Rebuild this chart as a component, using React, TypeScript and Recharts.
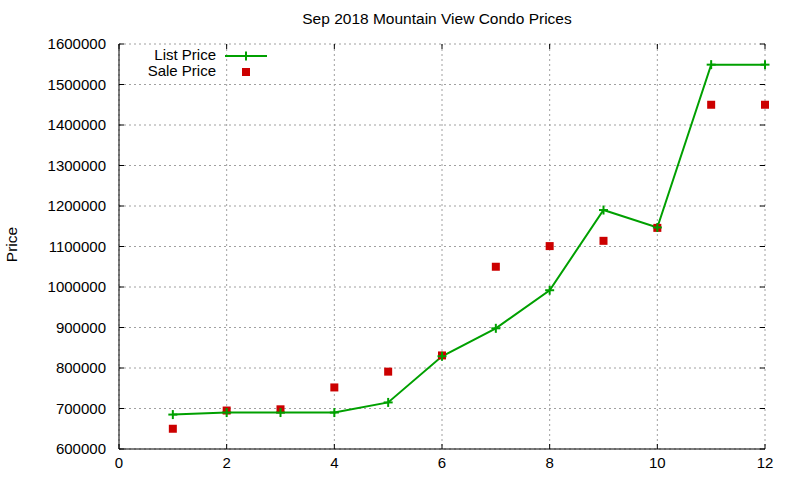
import { CartesianGrid, ComposedChart, Legend, Line, Scatter, XAxis, YAxis } from "recharts";

const months = [1, 2, 3, 4, 5, 6, 7, 8, 9, 10, 11, 12];
const listPrice = [685000, 690000, 690000, 690000, 715000, 829000, 898000, 992000, 1190000, 1147000, 1549000, 1549000];
const salePrice = [650000, 695000, 698000, 752000, 791000, 831000, 1050000, 1101000, 1114000, 1146000, 1450000, 1450000];
const xTicks = [0, 2, 4, 6, 8, 10, 12];
const yTicks = [600000, 700000, 800000, 900000, 1000000, 1100000, 1200000, 1300000, 1400000, 1500000, 1600000];

const TITLE = "Sep 2018 Mountain View Condo Prices";
const LIST_NAME = "List Price";
const SALE_NAME = "Sale Price";
const LIST_COLOR = "#00a000";
const SALE_COLOR = "#cc0000";
const FONT = "'Liberation Sans', Arial, sans-serif";

const PLOT_W = 646;
const PLOT_H = 405;
const TICK_LEN = 5;

const data = months.map((m, i) => ({ month: m, list: listPrice[i], sale: salePrice[i] }));

function PlusMark({ cx, cy }: { cx: number; cy: number }) {
  return (
    <g stroke={LIST_COLOR} strokeWidth={2}>
      <line x1={cx - 4.5} x2={cx + 4.5} y1={cy} y2={cy} />
      <line x1={cx} x2={cx} y1={cy - 4.5} y2={cy + 4.5} />
    </g>
  );
}

function SaleMark({ cx, cy }: any) {
  return <rect x={cx - 4} y={cy - 4} width={8} height={8} fill={SALE_COLOR} />;
}

// ticks point inward on every side, gnuplot style
function XTick({ x, y, payload }: any) {
  return (
    <g>
      <line x1={x} x2={x} y1={y} y2={y - TICK_LEN} stroke="#000" />
      <line x1={x} x2={x} y1={y - PLOT_H} y2={y - PLOT_H + TICK_LEN} stroke="#000" />
      <text x={x} y={y + 19} textAnchor="middle" fontSize={15} fontFamily={FONT} fill="#000">
        {payload.value}
      </text>
    </g>
  );
}

function YTick({ x, y, payload }: any) {
  return (
    <g>
      <line x1={x} x2={x + TICK_LEN} y1={y} y2={y} stroke="#000" />
      <line x1={x + PLOT_W} x2={x + PLOT_W - TICK_LEN} y1={y} y2={y} stroke="#000" />
      <text x={x - 13} y={y + 5} textAnchor="end" fontSize={15} fontFamily={FONT} fill="#000">
        {payload.value}
      </text>
    </g>
  );
}

function LegendBox() {
  const text = { fontSize: 15, fontFamily: FONT, fill: "#000" };
  return (
    <svg width={160} height={38} style={{ display: "block" }}>
      <text x={96} y={16} textAnchor="end" {...text}>{LIST_NAME}</text>
      <line x1={105} x2={147} y1={12} y2={12} stroke={LIST_COLOR} strokeWidth={2} />
      <PlusMark cx={126} cy={12} />
      <text x={96} y={32} textAnchor="end" {...text}>{SALE_NAME}</text>
      <rect x={122} y={24} width={8} height={8} fill={SALE_COLOR} />
    </svg>
  );
}

export default function App() {
  return (
    <div style={{ position: "absolute", left: 0, top: 0, width: 800, height: 480, background: "#fff", fontFamily: FONT }}>
      <div
        style={{
          position: "absolute",
          left: 0,
          top: 10,
          width: 874,
          textAlign: "center",
          fontSize: 15.5,
          lineHeight: "18px",
          color: "#000"
        }}
      >
        {TITLE}
      </div>
      <ComposedChart width={800} height={480} data={data} margin={{ top: 44, right: 35, left: 0, bottom: 0 }}>
        <CartesianGrid stroke="#a0a0a0" strokeDasharray="2 3" />
        <XAxis
          dataKey="month"
          type="number"
          domain={[0, 12]}
          ticks={xTicks}
          height={31}
          tickSize={0}
          tickMargin={0}
          tickLine={false}
          axisLine={{ stroke: "#000" }}
          tick={<XTick />}
        />
        <XAxis
          xAxisId="top"
          orientation="top"
          type="number"
          domain={[0, 12]}
          height={0}
          tick={false}
          tickLine={false}
          axisLine={{ stroke: "#000" }}
        />
        <YAxis
          type="number"
          domain={[600000, 1600000]}
          ticks={yTicks}
          width={119}
          tickSize={0}
          tickMargin={0}
          tickLine={false}
          axisLine={{ stroke: "#000" }}
          tick={<YTick />}
          label={{
            content: (props: any) => {
              const vb = props.viewBox || { y: 44, height: PLOT_H };
              const cy = vb.y + vb.height / 2 - 2;
              return (
                <text x={17} y={cy} transform={`rotate(-90 17 ${cy})`} textAnchor="middle" fontSize={15.5} fontFamily={FONT} fill="#000">
                  Price
                </text>
              );
            }
          }}
        />
        <YAxis
          yAxisId="right"
          orientation="right"
          type="number"
          domain={[600000, 1600000]}
          width={0}
          tick={false}
          tickLine={false}
          axisLine={{ stroke: "#000" }}
        />
        <Legend
          layout="horizontal"
          verticalAlign="middle"
          align="center"
          wrapperStyle={{ left: 120, top: 44, width: 160, height: 38 }}
          content={() => <LegendBox />}
        />
        <Line
          dataKey="list"
          name={LIST_NAME}
          type="linear"
          stroke={LIST_COLOR}
          strokeWidth={2}
          dot={(p: any) => <PlusMark key={p.index} cx={p.cx} cy={p.cy} />}
          activeDot={false}
          isAnimationActive={false}
        />
        <Scatter dataKey="sale" name={SALE_NAME} fill={SALE_COLOR} shape={<SaleMark />} isAnimationActive={false} />
      </ComposedChart>
    </div>
  );
}
